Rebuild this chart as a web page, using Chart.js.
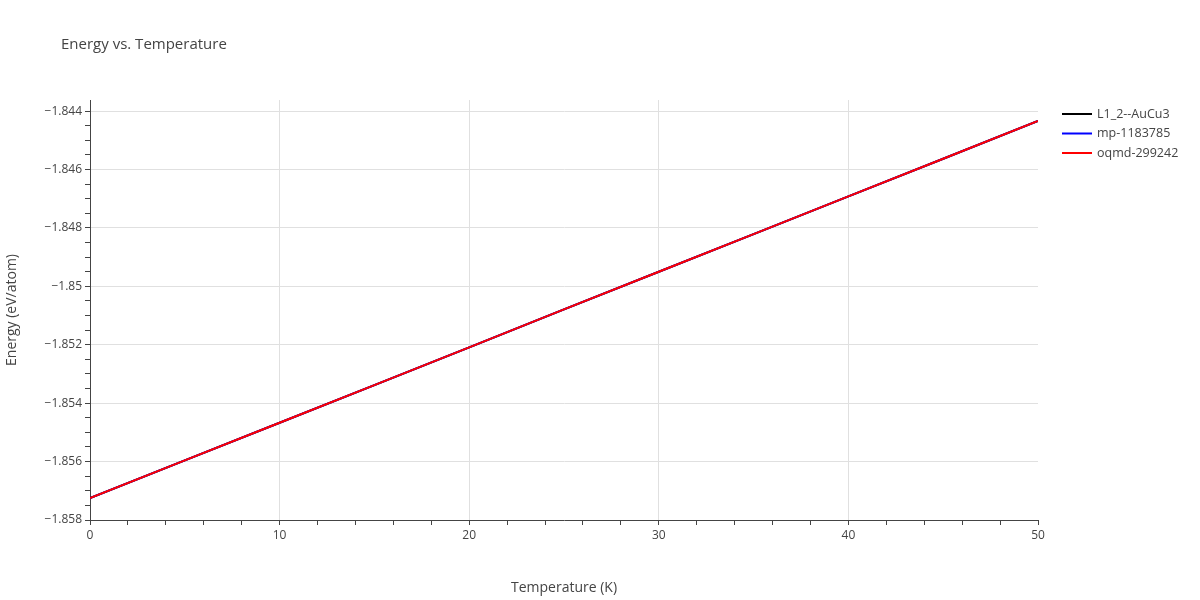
<!DOCTYPE html>
<html><head><meta charset="utf-8">
<script src="https://cdn.jsdelivr.net/npm/chart.js@4/dist/chart.umd.min.js"></script>
<style>body{margin:0;background:#fff}#w{width:1200px;height:600px}</style>
</head><body><div id="w"><canvas id="c" width="1200" height="600"></canvas></div>
<script>
const temperatures = [0, 5, 10, 15, 20, 25, 30, 35, 40, 45, 50];
const l12AuCu3 = [-1.85725, -1.85596, -1.85467, -1.85338, -1.85209, -1.85079, -1.84950, -1.84821, -1.84692, -1.84563, -1.84434];
const mp1183785 = [-1.85725, -1.85596, -1.85467, -1.85338, -1.85209, -1.85079, -1.84950, -1.84821, -1.84692, -1.84563, -1.84434];
const oqmd299242 = [-1.85725, -1.85596, -1.85467, -1.85338, -1.85209, -1.85079, -1.84950, -1.84821, -1.84692, -1.84563, -1.84434];
const seriesNames = ['L1_2--AuCu3', 'mp-1183785', 'oqmd-299242'];
const colors = ['#000000', '#0000ff', '#ff0000'];
const font = 'Open Sans, Noto Sans, sans-serif';
const txt = '#444';
const mk = (ys) => temperatures.map((x, i) => ({x, y: ys[i]}));
const yTicks = []; for (let k = 0; k <= 28; k++) yTicks.push({value: -1.858 + k * 0.0005, major: k % 4 === 0});
const xTicks = []; for (let k = 0; k <= 25; k++) xTicks.push({value: k * 2, major: k % 5 === 0});
const deco = {
  id: 'deco',
  afterDraw(ch) {
    const c = ch.ctx;
    c.save();
    c.fillStyle = txt; c.font = '15px ' + font; c.textBaseline = 'middle';
    c.fillText('Energy vs. Temperature', 61, 45);
    c.font = '12.5px ' + font;
    seriesNames.forEach((n, i) => {
      const y = 114 + i * 19.5;
      c.strokeStyle = colors[i]; c.lineWidth = 2;
      c.beginPath(); c.moveTo(1062, y); c.lineTo(1092, y); c.stroke();
      c.fillText(n, 1097, y);
    });
    c.restore();
  }
};
new Chart(document.getElementById('c'), {
  type: 'line',
  data: { datasets: [
    {label: seriesNames[0], data: mk(l12AuCu3), borderColor: colors[0], borderWidth: 2, pointRadius: 0, order: 3},
    {label: seriesNames[1], data: mk(mp1183785), borderColor: colors[1], borderWidth: 2, pointRadius: 0, order: 2},
    {label: seriesNames[2], data: mk(oqmd299242), borderColor: colors[2], borderWidth: 2, pointRadius: 0, order: 1}
  ]},
  options: {
    responsive: false, animation: false,
    layout: {padding: {left: 0, top: 100, right: 162, bottom: 0}},
    plugins: {legend: {display: false}, tooltip: {enabled: false}},
    scales: {
      x: {
        type: 'linear', min: 0, max: 50,
        afterBuildTicks: s => { s.ticks = xTicks.map(t => ({...t})); },
        afterFit: s => { s.height = 80; },
        ticks: {autoSkip: false, maxRotation: 0, color: txt, font: {family: font, size: 12},
          callback: (v, i) => xTicks[i] && xTicks[i].major ? String(v) : ''},
        grid: {color: ctx => (ctx.tick && ctx.tick.major && ctx.tick.value > 0 && ctx.tick.value < 50) ? '#e0e0e0' : 'rgba(0,0,0,0)',
          tickColor: '#444', tickLength: 5, drawTicks: true},
        border: {color: '#444', width: 1},
        title: {display: true, text: 'Temperature (K)', color: txt, font: {family: font, size: 14}, padding: {top: 0}}
      },
      y: {
        type: 'linear', min: -1.858, max: -1.84362,
        afterBuildTicks: s => { s.ticks = yTicks.map(t => ({...t})); },
        afterFit: s => { s.width = 90; },
        ticks: {autoSkip: false, color: txt, font: {family: font, size: 12},
          callback: (v, i) => yTicks[i] && yTicks[i].major ? ('\u2212' + Math.abs(v).toFixed(3).replace(/0+$/, '').replace(/\.$/, '')) : ''},
        grid: {color: ctx => (ctx.tick && ctx.tick.major && ctx.tick.value > -1.8579) ? '#e0e0e0' : 'rgba(0,0,0,0)',
          tickColor: '#444', tickLength: 5},
        border: {color: '#444', width: 1},
        title: {display: true, text: 'Energy (eV/atom)', color: txt, font: {family: font, size: 14}, padding: {bottom: 4}}
      }
    }
  },
  plugins: [deco]
});
</script></body></html>
